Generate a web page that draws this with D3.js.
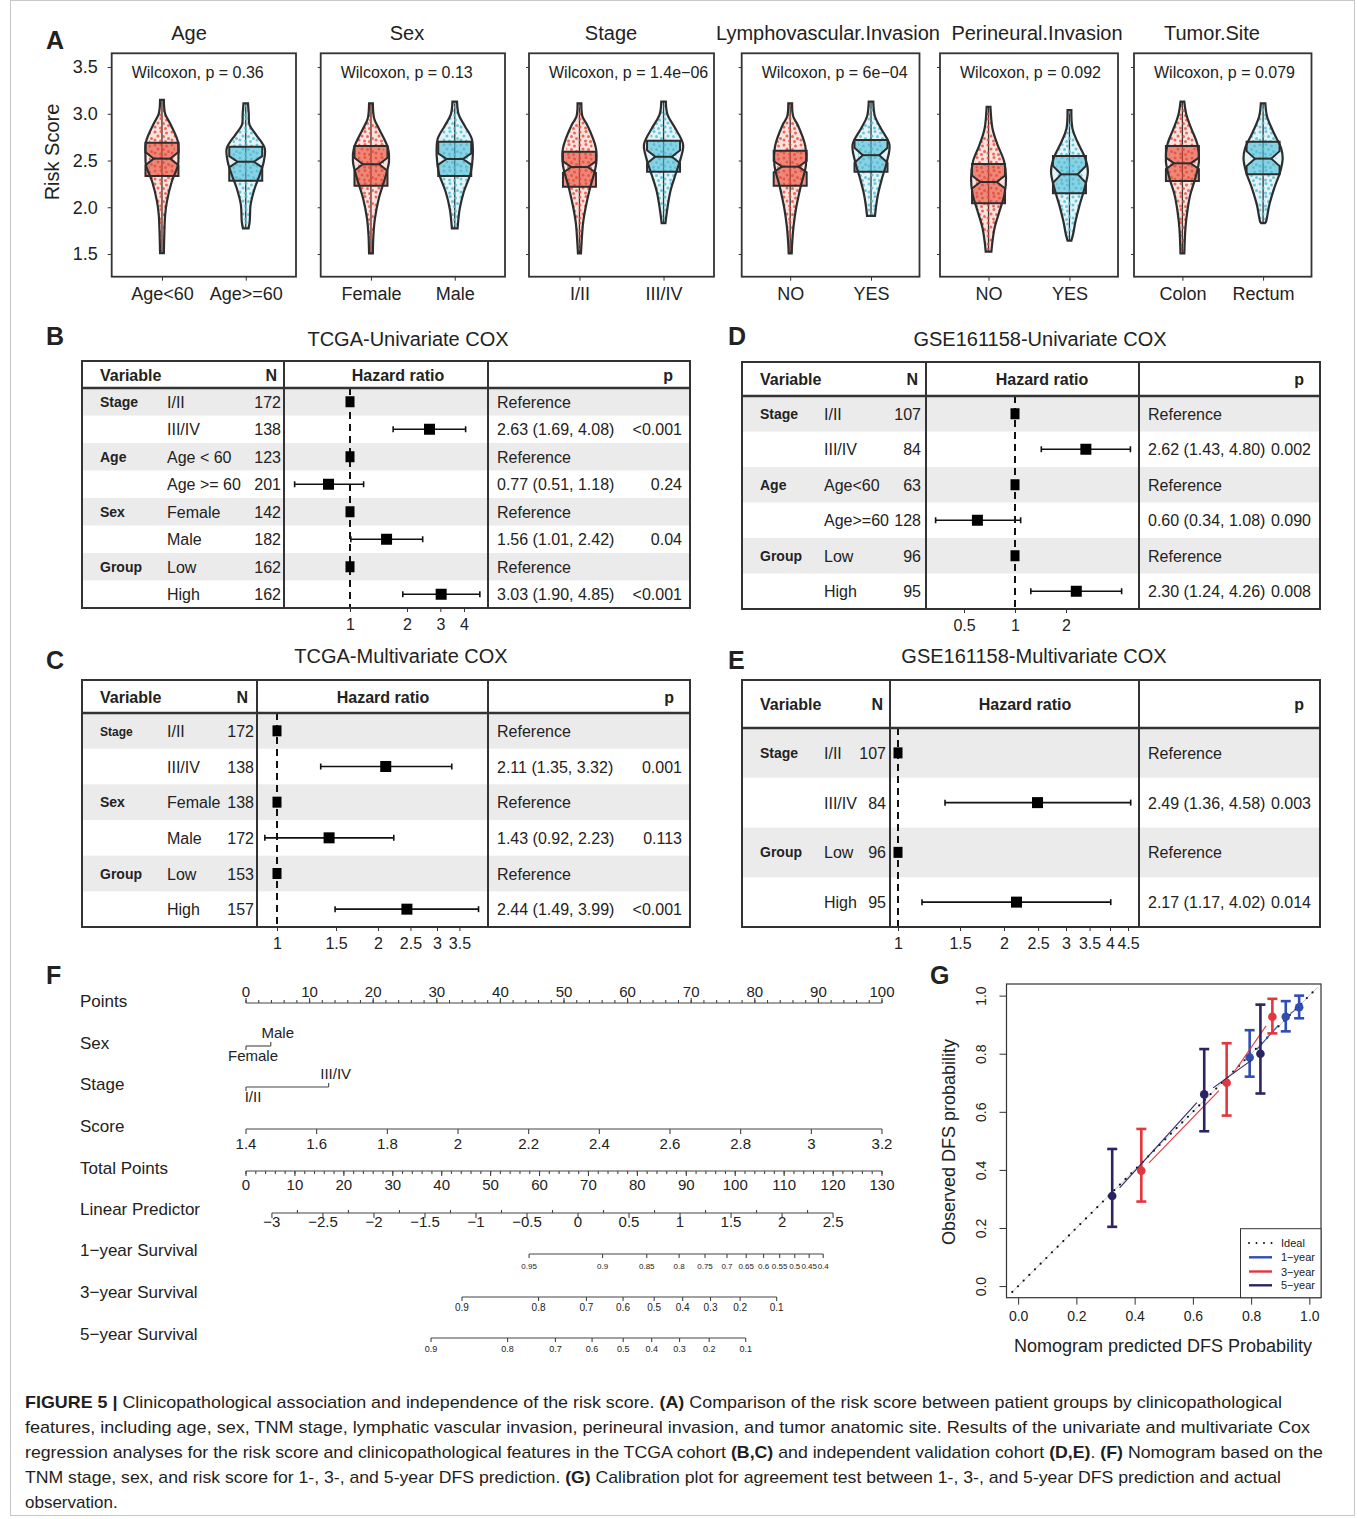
<!DOCTYPE html>
<html>
<head>
<meta charset="utf-8">
<title>Figure 5</title>
<script src="https://cdn.jsdelivr.net/npm/d3@7"></script>
<style>
  body { margin: 0; background: #fff; }
  svg { display: block; }
</style>
</head>
<body>
<svg id="fig" width="1357" height="1519"></svg>
<script>
// ---------- panel A : risk score by clinical groups ----------
const violinPanels = ['Age', 'Sex', 'Stage', 'Lymphovascular.Invasion', 'Perineural.Invasion', 'Tumor.Site'];
const violinGroups = [['Age<60', 'Age>=60'], ['Female', 'Male'], ['I/II', 'III/IV'], ['NO', 'YES'], ['NO', 'YES'], ['Colon', 'Rectum']];
const wilcoxonP = ['0.36', '0.13', '1.4e\u221206', '6e\u221204', '0.092', '0.079'];
const riskTicks = [1.5, 2.0, 2.5, 3.0, 3.5];

// [q1, median, q3, notch half height]
const boxAge = [[2.334, 2.52, 2.69, 0.07], [2.284, 2.487, 2.648, 0.06]];
const boxSex = [[2.231, 2.46, 2.655, 0.07], [2.334, 2.516, 2.70, 0.06]];
const boxStage = [[2.22, 2.43, 2.594, 0.06], [2.38, 2.54, 2.712, 0.07]];
const boxLVI = [[2.231, 2.434, 2.605, 0.06], [2.38, 2.557, 2.719, 0.08]];
const boxPNI = [[2.042, 2.27, 2.463, 0.07], [2.149, 2.352, 2.548, 0.09]];
const boxSite = [[2.28, 2.47, 2.655, 0.06], [2.352, 2.52, 2.70, 0.08]];

// violin outline: [risk score, relative half width]
const violinAge = [
  [[3.15, 0.1], [3.0, 0.17], [2.88, 0.47], [2.7, 0.84], [2.55, 0.87], [2.45, 0.84], [2.27, 0.51], [2.06, 0.26], [1.92, 0.17], [1.75, 0.13], [1.51, 0.1]],
  [[3.11, 0.12], [3.0, 0.16], [2.88, 0.2], [2.78, 0.53], [2.63, 1.0], [2.49, 0.95], [2.35, 0.74], [2.2, 0.47], [2.03, 0.26], [1.85, 0.21], [1.775, 0.15]]
];
const violinSex = [
  [[3.11, 0.1], [2.95, 0.17], [2.84, 0.42], [2.63, 0.9], [2.49, 0.95], [2.31, 0.74], [2.1, 0.42], [1.88, 0.21], [1.7, 0.13], [1.507, 0.1]],
  [[3.13, 0.12], [2.99, 0.21], [2.87, 0.53], [2.73, 0.9], [2.55, 0.95], [2.37, 0.84], [2.16, 0.47], [1.98, 0.26], [1.775, 0.15]]
];
const violinStage = [
  [[3.11, 0.1], [2.97, 0.16], [2.88, 0.41], [2.63, 0.87], [2.45, 0.87], [2.2, 0.55], [2.0, 0.33], [1.83, 0.19], [1.58, 0.1], [1.507, 0.08]],
  [[3.13, 0.12], [2.99, 0.21], [2.84, 0.63], [2.67, 1.03], [2.52, 0.9], [2.35, 0.63], [2.18, 0.37], [2.0, 0.21], [1.83, 0.1]]
];
const violinLVI = [
  [[3.11, 0.1], [2.97, 0.16], [2.88, 0.4], [2.65, 0.8], [2.45, 0.83], [2.22, 0.55], [2.0, 0.32], [1.8, 0.18], [1.6, 0.1], [1.507, 0.08]],
  [[3.13, 0.12], [2.97, 0.21], [2.84, 0.53], [2.67, 0.97], [2.49, 0.84], [2.31, 0.58], [2.14, 0.37], [2.0, 0.26], [1.907, 0.21]]
];
const violinPNI = [
  [[3.075, 0.1], [2.84, 0.21], [2.67, 0.47], [2.49, 0.82], [2.31, 0.92], [2.14, 0.84], [1.96, 0.58], [1.78, 0.32], [1.64, 0.21], [1.525, 0.15]],
  [[3.04, 0.1], [2.84, 0.16], [2.7, 0.42], [2.52, 0.84], [2.38, 0.97], [2.2, 0.79], [2.02, 0.53], [1.85, 0.32], [1.7, 0.18], [1.643, 0.1]]
];
const violinSite = [
  [[3.13, 0.1], [2.99, 0.21], [2.84, 0.47], [2.67, 0.79], [2.49, 0.87], [2.31, 0.68], [2.14, 0.42], [1.96, 0.26], [1.78, 0.16], [1.507, 0.1]],
  [[3.11, 0.12], [2.97, 0.21], [2.81, 0.53], [2.63, 0.95], [2.52, 1.03], [2.38, 0.9], [2.2, 0.58], [2.02, 0.32], [1.85, 0.16], [1.83, 0.1]]
];

// ---------- panels B-E : cox regression tables ----------
const tcgaUniGroups = ['Stage', '', 'Age', '', 'Sex', '', 'Group', ''];
const tcgaUniLevels = ['I/II', 'III/IV', 'Age < 60', 'Age >= 60', 'Female', 'Male', 'Low', 'High'];
const tcgaUniN = [172, 138, 123, 201, 142, 182, 162, 162];
const tcgaUniHR = [1, 2.63, 1, 0.77, 1, 1.56, 1, 3.03];
const tcgaUniLo = [null, 1.69, null, 0.51, null, 1.01, null, 1.90];
const tcgaUniHi = [null, 4.08, null, 1.18, null, 2.42, null, 4.85];
const tcgaUniP = ['', '<0.001', '', '0.24', '', '0.04', '', '<0.001'];

const tcgaMultiGroups = ['Stage', '', 'Sex', '', 'Group', ''];
const tcgaMultiLevels = ['I/II', 'III/IV', 'Female', 'Male', 'Low', 'High'];
const tcgaMultiN = [172, 138, 138, 172, 153, 157];
const tcgaMultiHR = [1, 2.11, 1, 1.43, 1, 2.44];
const tcgaMultiLo = [null, 1.35, null, 0.92, null, 1.49];
const tcgaMultiHi = [null, 3.32, null, 2.23, null, 3.99];
const tcgaMultiP = ['', '0.001', '', '0.113', '', '<0.001'];

const gseUniGroups = ['Stage', '', 'Age', '', 'Group', ''];
const gseUniLevels = ['I/II', 'III/IV', 'Age<60', 'Age>=60', 'Low', 'High'];
const gseUniN = [107, 84, 63, 128, 96, 95];
const gseUniHR = [1, 2.62, 1, 0.60, 1, 2.30];
const gseUniLo = [null, 1.43, null, 0.34, null, 1.24];
const gseUniHi = [null, 4.80, null, 1.08, null, 4.26];
const gseUniP = ['', '0.002', '', '0.090', '', '0.008'];

const gseMultiGroups = ['Stage', '', 'Group', ''];
const gseMultiLevels = ['I/II', 'III/IV', 'Low', 'High'];
const gseMultiN = [107, 84, 96, 95];
const gseMultiHR = [1, 2.49, 1, 2.17];
const gseMultiLo = [null, 1.36, null, 1.17];
const gseMultiHi = [null, 4.58, null, 4.02];
const gseMultiP = ['', '0.003', '', '0.014'];

// ---------- panel F : nomogram ----------
const nomoRows = ['Points', 'Sex', 'Stage', 'Score', 'Total Points', 'Linear Predictor',
  '1\u2212year Survival', '3\u2212year Survival', '5\u2212year Survival'];
const pointsTicks = d3.range(0, 101, 10);
const sexLevels = ['Female', 'Male'];
const sexPoints = [0, 3.9];
const stageLevels = ['I/II', 'III/IV'];
const stagePoints = [0, 13.0];
const scoreTicks = [1.4, 1.6, 1.8, 2, 2.2, 2.4, 2.6, 2.8, 3, 3.2];
const totalTicks = d3.range(0, 131, 10);
const lpTicks = [-3, -2.5, -2, -1.5, -1, -0.5, 0, 0.5, 1, 1.5, 2, 2.5];
const lpTotalPoints = [5.3, 120.0];          // total points at lp = -3 and lp = 2.5
const baselineSurv = [0.9205, 0.720, 0.6408]; // 1-, 3-, 5-year
const surv1Ticks = [0.95, 0.9, 0.85, 0.8, 0.75, 0.7, 0.65, 0.6, 0.55, 0.5, 0.45, 0.4];
const surv3Ticks = [0.9, 0.8, 0.7, 0.6, 0.5, 0.4, 0.3, 0.2, 0.1];
const surv5Ticks = [0.9, 0.8, 0.7, 0.6, 0.5, 0.4, 0.3, 0.2, 0.1];

// ---------- panel G : calibration ----------
const calibYears = ['1\u2212year', '3\u2212year', '5\u2212year'];
const calibPred = [[0.795, 0.919, 0.965], [0.423, 0.716, 0.873], [0.323, 0.639, 0.832]];
const calibObs = [[0.787, 0.927, 0.96], [0.397, 0.70, 0.927], [0.31, 0.66, 0.80]];
const calibLo = [[0.721, 0.877, 0.922], [0.291, 0.587, 0.87], [0.204, 0.533, 0.663]];
const calibHi = [[0.881, 0.981, 1.0], [0.541, 0.836, 0.989], [0.472, 0.816, 0.969]];
const calibTicks = [0, 0.2, 0.4, 0.6, 0.8, 1.0];

// =====================================================================
const FONT = '"Liberation Sans", Arial, Helvetica, sans-serif';
const INK = '#222';
const svg = d3.select('#fig').style('font-family', FONT).attr('fill', INK);

svg.append('rect').attr('x', 10.5).attr('y', 0.5).attr('width', 1344).attr('height', 1515)
  .attr('fill', 'none').attr('stroke', '#c8c8c8');

function panelLetter(txt, x, y) {
  svg.append('text').attr('x', x).attr('y', y).attr('font-size', 25).attr('font-weight', 'bold').text(txt);
}
panelLetter('A', 46, 49);
panelLetter('B', 46, 345);
panelLetter('C', 46, 669);
panelLetter('D', 728, 345);
panelLetter('E', 728, 669);
panelLetter('F', 46, 984);
panelLetter('G', 930, 984);

function styleAxis(a, size) {
  a.select('.domain').remove();
  a.attr('font-family', FONT).attr('font-size', size).attr('color', '#333');
  a.selectAll('text').attr('fill', INK);
}

// ---------------- panel A ----------------
const vioColors = ['#E64B35', '#4DBBD5'];
const defs = svg.append('defs');
vioColors.forEach((c, i) => {
  const p = defs.append('pattern').attr('id', 'dots' + i)
    .attr('patternUnits', 'userSpaceOnUse').attr('width', 17).attr('height', 13);
  [[2, 2], [8, 1.5], [13.5, 3], [5, 6], [10.5, 6.5], [15.5, 8.5], [2, 10], [7.5, 11], [12.5, 11.5]].forEach(([x, y]) => {
    p.append('circle').attr('cx', x).attr('cy', y).attr('r', 1.5).attr('fill', c).attr('opacity', 0.8);
  });
});

const aTop = 53.3, aBottom = 276.7;
const aBoxes = [[111.7, 296], [320.7, 505], [529, 714], [741.7, 919.5], [940, 1118], [1134, 1311.5]];
const aTitleX = [189, 407, 611, 828, 1037, 1212];
const yA = d3.scaleLinear().domain([1.5, 3.5]).range([254, 67]);
const allBoxes = [boxAge, boxSex, boxStage, boxLVI, boxPNI, boxSite];
const allViolins = [violinAge, violinSex, violinStage, violinLVI, violinPNI, violinSite];
const vioHalf = 19, boxHalf = 16.5;

svg.append('text').attr('transform', 'translate(59,152) rotate(-90)')
  .attr('text-anchor', 'middle').attr('font-size', 20).text('Risk Score');

violinPanels.forEach((title, pi) => {
  const [bx0, bx1] = aBoxes[pi];
  const g = svg.append('g');
  const xp = d3.scalePoint().domain(violinGroups[pi]).range([bx0, bx1]).padding(0.6);

  g.append('text').attr('x', aTitleX[pi]).attr('y', 40).attr('text-anchor', 'middle')
    .attr('font-size', 20).text(title);

  g.append('g').attr('transform', `translate(${bx0},0)`)
    .call(d3.axisLeft(yA).tickValues(riskTicks).tickSize(pi === 0 ? 4 : 3).tickPadding(10)
      .tickFormat(pi === 0 ? d3.format('.1f') : ''))
    .call(a => styleAxis(a, 18));

  g.append('g').attr('transform', `translate(0,${aBottom})`)
    .call(d3.axisBottom(xp).tickSize(4).tickPadding(7))
    .call(a => styleAxis(a, 18));

  g.append('text').attr('x', bx0 + 20).attr('y', 78).attr('font-size', 16)
    .text('Wilcoxon, p = ' + wilcoxonP[pi]);

  violinGroups[pi].forEach((grp, gi) => {
    const cx = xp(grp);
    const prof = allViolins[pi][gi];
    const [q1, med, q3, nh] = allBoxes[pi][gi];
    const col = vioColors[gi];
    const area = d3.area()
      .y(d => yA(d[0]))
      .x0(d => cx - d[1] * vioHalf)
      .x1(d => cx + d[1] * vioHalf)
      .curve(d3.curveCatmullRom);
    const clipId = `vclip${pi}_${gi}`;
    defs.append('clipPath').attr('id', clipId).append('path').attr('d', area(prof));

    g.append('path').attr('d', area(prof)).attr('fill', col).attr('fill-opacity', 0.16);
    // whisker
    g.append('line').attr('x1', cx).attr('x2', cx)
      .attr('y1', yA(prof[0][0])).attr('y2', yA(prof[prof.length - 1][0]))
      .attr('stroke', '#333').attr('stroke-width', 1.3);
    // notched box
    const xi = boxHalf * 0.5;
    const pts = [
      [cx - boxHalf, yA(q3)], [cx + boxHalf, yA(q3)], [cx + boxHalf, yA(med + nh)], [cx + xi, yA(med)],
      [cx + boxHalf, yA(med - nh)], [cx + boxHalf, yA(q1)], [cx - boxHalf, yA(q1)],
      [cx - boxHalf, yA(med - nh)], [cx - xi, yA(med)], [cx - boxHalf, yA(med + nh)]
    ];
    g.append('path').attr('d', 'M' + pts.join('L') + 'Z').attr('fill', col).attr('fill-opacity', 0.6);
    // jittered points
    g.append('g').attr('clip-path', `url(#${clipId})`)
      .append('rect').attr('x', cx - 13).attr('width', 26)
      .attr('y', yA(prof[0][0]) - 2).attr('height', yA(prof[prof.length - 1][0]) - yA(prof[0][0]) + 4)
      .attr('fill', `url(#dots${gi})`);
    g.append('path').attr('d', 'M' + pts.join('L') + 'Z').attr('fill', 'none')
      .attr('stroke', '#2d2d2d').attr('stroke-width', 2);
    g.append('line').attr('x1', cx - xi).attr('x2', cx + xi).attr('y1', yA(med)).attr('y2', yA(med))
      .attr('stroke', '#2d2d2d').attr('stroke-width', 2);
    g.append('path').attr('d', area(prof)).attr('fill', 'none')
      .attr('stroke', '#2d2d2d').attr('stroke-width', 2.2);
  });

  g.append('rect').attr('x', bx0).attr('y', aTop).attr('width', bx1 - bx0).attr('height', aBottom - aTop)
    .attr('fill', 'none').attr('stroke', '#333').attr('stroke-width', 1.8);
});

// ---------------- panels B-E ----------------
function drawForest(d, L) {
  const g = svg.append('g');
  const n = d.levels.length;
  const row = d3.scaleBand().domain(d3.range(n)).range([L.top + L.headH, L.bottom]);
  const cy = i => row(i) + row.bandwidth() / 2;
  const hr = d3.scaleLog().domain(L.hrDomain).range(L.hrRange);
  const f2 = d3.format('.2f');

  g.append('text').attr('x', L.titleX).attr('y', L.titleY).attr('text-anchor', 'middle')
    .attr('font-size', 20).text(d.title);

  g.selectAll('rect.zebra').data(d3.range(0, n, 2)).join('rect')
    .attr('x', L.left).attr('width', L.right - L.left)
    .attr('y', i => row(i)).attr('height', row.bandwidth()).attr('fill', '#ebebeb');

  const hy = L.top + L.headH / 2 + 6;
  const head = g.append('g').attr('font-weight', 'bold').attr('font-size', 16);
  head.append('text').attr('x', L.groupX).attr('y', hy).text('Variable');
  head.append('text').attr('x', L.nHeadX).attr('y', hy).attr('text-anchor', 'end').text('N');
  head.append('text').attr('x', L.hrHeadX).attr('y', hy).attr('text-anchor', 'middle').text('Hazard ratio');
  head.append('text').attr('x', L.pHeadX).attr('y', hy).attr('text-anchor', 'end').text('p');

  const rows = g.selectAll('g.row').data(d3.range(n)).join('g')
    .attr('transform', i => `translate(0,${cy(i)})`).attr('font-size', 16);
  rows.append('text').attr('x', L.groupX).attr('y', 5).attr('font-weight', 'bold')
    .attr('font-size', i => (L.smallGroups || []).includes(i) ? 12 : 14).text(i => d.groups[i]);
  rows.append('text').attr('x', L.levelX).attr('y', 6).text(i => d.levels[i]);
  rows.append('text').attr('x', L.nX).attr('y', 6).attr('text-anchor', 'end').text(i => d.n[i]);
  rows.append('text').attr('x', L.estX).attr('y', 6)
    .text(i => d.lo[i] == null ? 'Reference' : `${f2(d.hr[i])} (${f2(d.lo[i])}, ${f2(d.hi[i])})`);
  rows.append('text').attr('x', L.pX).attr('y', 6).attr('text-anchor', 'end').text(i => d.p[i]);

  // reference line
  g.append('line').attr('x1', hr(1)).attr('x2', hr(1)).attr('y1', L.top + L.headH).attr('y2', L.bottom)
    .attr('stroke', '#111').attr('stroke-width', 2).attr('stroke-dasharray', '7,5');

  const est = d3.range(n).filter(i => d.lo[i] != null);
  const ci = g.selectAll('g.ci').data(est).join('g').attr('stroke', '#111').attr('stroke-width', 1.6);
  ci.append('line').attr('x1', i => hr(d.lo[i])).attr('x2', i => hr(d.hi[i])).attr('y1', cy).attr('y2', cy);
  ci.append('line').attr('x1', i => hr(d.lo[i])).attr('x2', i => hr(d.lo[i]))
    .attr('y1', i => cy(i) - 3).attr('y2', i => cy(i) + 3);
  ci.append('line').attr('x1', i => hr(d.hi[i])).attr('x2', i => hr(d.hi[i]))
    .attr('y1', i => cy(i) - 3).attr('y2', i => cy(i) + 3);
  g.selectAll('rect.sq').data(d3.range(n)).join('rect')
    .attr('width', i => d.lo[i] == null ? 9 : 11).attr('height', 11)
    .attr('x', i => hr(d.hr[i]) - (d.lo[i] == null ? 4.5 : 5.5)).attr('y', i => cy(i) - 5.5)
    .attr('fill', '#000');

  // frame
  const fr = g.append('g').attr('stroke', '#333').attr('stroke-width', 2).attr('fill', 'none');
  fr.append('rect').attr('x', L.left).attr('y', L.top).attr('width', L.right - L.left).attr('height', L.bottom - L.top);
  fr.append('line').attr('x1', L.left).attr('x2', L.right).attr('y1', L.top + L.headH).attr('y2', L.top + L.headH)
    .attr('stroke-width', 2.5);
  L.div.forEach(x => fr.append('line').attr('x1', x).attr('x2', x).attr('y1', L.top).attr('y2', L.bottom));

  g.append('g').attr('transform', `translate(0,${L.bottom})`)
    .call(d3.axisBottom(hr).tickValues(L.ticks).tickFormat(d3.format('')).tickSize(4).tickPadding(7))
    .call(a => styleAxis(a, 16));
}

drawForest(
  { title: 'TCGA-Univariate COX', groups: tcgaUniGroups, levels: tcgaUniLevels, n: tcgaUniN,
    hr: tcgaUniHR, lo: tcgaUniLo, hi: tcgaUniHi, p: tcgaUniP },
  { left: 82, right: 690, top: 361, bottom: 608, headH: 27, div: [284, 488],
    hrDomain: [1, 4], hrRange: [350, 464], ticks: [1, 2, 3, 4], titleX: 408, titleY: 346,
    groupX: 100, levelX: 167, nX: 281, nHeadX: 277, hrHeadX: 398, estX: 497, pX: 682, pHeadX: 673 });

drawForest(
  { title: 'TCGA-Multivariate COX', groups: tcgaMultiGroups, levels: tcgaMultiLevels, n: tcgaMultiN,
    hr: tcgaMultiHR, lo: tcgaMultiLo, hi: tcgaMultiHi, p: tcgaMultiP },
  { left: 82, right: 690, top: 680, bottom: 927, headH: 33, div: [257, 488],
    hrDomain: [1, 3], hrRange: [277, 437], ticks: [1, 1.5, 2, 2.5, 3, 3.5], titleX: 401, titleY: 663,
    groupX: 100, levelX: 167, nX: 254, nHeadX: 248, hrHeadX: 383, estX: 497, pX: 682, pHeadX: 674,
    smallGroups: [0] });

drawForest(
  { title: 'GSE161158-Univariate COX', groups: gseUniGroups, levels: gseUniLevels, n: gseUniN,
    hr: gseUniHR, lo: gseUniLo, hi: gseUniHi, p: gseUniP },
  { left: 742, right: 1320, top: 362, bottom: 609, headH: 34, div: [926, 1139],
    hrDomain: [1, 2], hrRange: [1015, 1066], ticks: [0.5, 1, 2], titleX: 1040, titleY: 346,
    groupX: 760, levelX: 824, nX: 921, nHeadX: 918, hrHeadX: 1042, estX: 1148, pX: 1311, pHeadX: 1304 });

drawForest(
  { title: 'GSE161158-Multivariate COX', groups: gseMultiGroups, levels: gseMultiLevels, n: gseMultiN,
    hr: gseMultiHR, lo: gseMultiLo, hi: gseMultiHi, p: gseMultiP },
  { left: 742, right: 1320, top: 680, bottom: 927, headH: 48, div: [890, 1139],
    hrDomain: [1, 2], hrRange: [898, 1004], ticks: [1, 1.5, 2, 2.5, 3, 3.5, 4, 4.5], titleX: 1034, titleY: 663,
    groupX: 760, levelX: 824, nX: 886, nHeadX: 883, hrHeadX: 1025, estX: 1148, pX: 1311, pHeadX: 1304 });

// ---------------- panel F ----------------
const ptsX = d3.scaleLinear().domain([0, 100]).range([246, 882]);
const totX = d3.scaleLinear().domain([0, 130]).range([246, 882]);
const scoreToPts = d3.scaleLinear().domain([1.4, 3.2]).range([0, 100]);
const lpToTot = d3.scaleLinear().domain([-3, 2.5]).range(lpTotalPoints);
const lpX = v => totX(lpToTot(v));
const survX = s0 => s => lpX(Math.log(Math.log(s) / Math.log(s0)));
const fmt = d3.format('');

const nomoRowY = [1007, 1049, 1090, 1132, 1174, 1215, 1256, 1298, 1340];
svg.append('g').attr('font-size', 17).selectAll('text').data(nomoRows).join('text')
  .attr('x', 80).attr('y', (d, i) => nomoRowY[i]).text(d => d);

function nomoAxis(o) {
  const g = svg.append('g');
  const ln = g.append('g').attr('stroke', '#444').attr('stroke-width', 1.1);
  ln.append('line').attr('x1', o.pos(o.ticks[0])).attr('x2', o.pos(o.ticks[o.ticks.length - 1]))
    .attr('y1', o.y).attr('y2', o.y);
  if (o.minor) {
    ln.selectAll('line.mi').data(o.minor).join('line').attr('class', 'mi')
      .attr('x1', o.pos).attr('x2', o.pos).attr('y1', o.y).attr('y2', o.y + o.minorLen);
  }
  ln.selectAll('line.ma').data(o.ticks).join('line').attr('class', 'ma')
    .attr('x1', o.pos).attr('x2', o.pos).attr('y1', o.y).attr('y2', o.y + o.len);
  g.selectAll('text').data(o.ticks).join('text')
    .attr('x', d => o.pos(d)).attr('y', o.labelY).attr('text-anchor', 'middle')
    .attr('font-size', o.size).text(o.fmt || fmt);
}

nomoAxis({ y: 1003, ticks: pointsTicks, pos: ptsX, len: -5, minor: d3.range(0, 101, 2), minorLen: -3,
  labelY: 997, size: 15 });
nomoAxis({ y: 1129, ticks: scoreTicks, pos: v => ptsX(scoreToPts(v)), len: 5, labelY: 1149, size: 15 });
nomoAxis({ y: 1171, ticks: totalTicks, pos: totX, len: 5, minor: d3.range(0, 131, 2), minorLen: 3,
  labelY: 1190, size: 15 });
nomoAxis({ y: 1213, ticks: lpTicks, pos: lpX, len: 5, minor: d3.range(-2.75, 2.5, 0.5), minorLen: -3,
  labelY: 1227, size: 15 });
nomoAxis({ y: 1254, ticks: surv1Ticks, pos: survX(baselineSurv[0]), len: 4, labelY: 1269, size: 8 });
nomoAxis({ y: 1297, ticks: surv3Ticks, pos: survX(baselineSurv[1]), len: 4, labelY: 1311, size: 10 });
nomoAxis({ y: 1338, ticks: surv5Ticks, pos: survX(baselineSurv[2]), len: 4, labelY: 1352, size: 9 });

function nomoCategorical(y, levels, points) {
  const g = svg.append('g');
  const ln = g.append('g').attr('stroke', '#444').attr('stroke-width', 1.1);
  ln.append('line').attr('x1', ptsX(points[0])).attr('x2', ptsX(points[1])).attr('y1', y).attr('y2', y);
  ln.selectAll('line.t').data(points).join('line').attr('class', 't')
    .attr('x1', ptsX).attr('x2', ptsX).attr('y1', y).attr('y2', (d, i) => y + (i === 0 ? 4 : -4));
  g.selectAll('text').data(levels).join('text')
    .attr('x', (d, i) => ptsX(points[i]) + 7).attr('y', (d, i) => i === 0 ? y + 15 : y - 8)
    .attr('text-anchor', 'middle').attr('font-size', 15).text(d => d);
}
nomoCategorical(1046, sexLevels, sexPoints);
nomoCategorical(1087, stageLevels, stagePoints);

// ---------------- panel G ----------------
const xG = d3.scaleLinear().domain([-0.04, 1.04]).range([1006.5, 1321]);
const yG = d3.scaleLinear().domain([-0.04, 1.04]).range([1297.7, 984]);
const calibColors = ['#2F4DB3', '#E3363D', '#2A2465'];
const gG = svg.append('g');

gG.append('line').attr('x1', xG(-0.02)).attr('y1', yG(-0.02)).attr('x2', xG(1.03)).attr('y2', yG(1.03))
  .attr('stroke', '#c4c4c4').attr('stroke-width', 1);
gG.append('line').attr('x1', xG(-0.02)).attr('y1', yG(-0.02)).attr('x2', xG(1.03)).attr('y2', yG(1.03))
  .attr('stroke', '#111').attr('stroke-width', 2.2).attr('stroke-linecap', 'round')
  .attr('stroke-dasharray', '0,8');

calibYears.forEach((yr, k) => {
  const col = calibColors[k];
  const pts = calibPred[k].map((p, i) => [xG(p), yG(calibObs[k][i])]);
  // type = "b": segments stop short of the points
  d3.pairs(pts).forEach(([a, b]) => {
    const dx = b[0] - a[0], dy = b[1] - a[1], len = Math.hypot(dx, dy), gap = 11;
    gG.append('line')
      .attr('x1', a[0] + dx * gap / len).attr('y1', a[1] + dy * gap / len)
      .attr('x2', b[0] - dx * gap / len).attr('y2', b[1] - dy * gap / len)
      .attr('stroke', col).attr('stroke-width', 1.1);
  });
  const eb = gG.append('g').attr('stroke', col).attr('stroke-width', 2.6);
  calibPred[k].forEach((p, i) => {
    const x = xG(p);
    eb.append('line').attr('x1', x).attr('x2', x).attr('y1', yG(calibLo[k][i])).attr('y2', yG(calibHi[k][i]));
    eb.append('line').attr('x1', x - 5).attr('x2', x + 5).attr('y1', yG(calibLo[k][i])).attr('y2', yG(calibLo[k][i]));
    eb.append('line').attr('x1', x - 5).attr('x2', x + 5).attr('y1', yG(calibHi[k][i])).attr('y2', yG(calibHi[k][i]));
  });
  gG.selectAll(null).data(pts).join('circle').attr('cx', d => d[0]).attr('cy', d => d[1])
    .attr('r', 4.3).attr('fill', col);
});

gG.append('rect').attr('x', xG(-0.04)).attr('y', yG(1.04)).attr('width', xG(1.04) - xG(-0.04))
  .attr('height', yG(-0.04) - yG(1.04)).attr('fill', 'none').attr('stroke', '#333').attr('stroke-width', 1.2);

gG.append('g').attr('transform', `translate(0,${yG(-0.04)})`)
  .call(d3.axisBottom(xG).tickValues(calibTicks).tickFormat(d3.format('.1f')).tickSize(7).tickPadding(6))
  .call(a => styleAxis(a, 14));
gG.append('g').attr('transform', `translate(${xG(-0.04)},0)`)
  .call(d3.axisLeft(yG).tickValues(calibTicks).tickFormat(d3.format('.1f')).tickSize(7))
  .call(a => styleAxis(a, 14))
  .call(a => a.selectAll('text').attr('transform', 'rotate(-90)').attr('text-anchor', 'middle')
    .attr('x', 0).attr('y', -21).attr('dy', 0));

gG.append('text').attr('x', 1163).attr('y', 1352).attr('text-anchor', 'middle').attr('font-size', 18)
  .text('Nomogram predicted DFS Probability');
gG.append('text').attr('transform', 'translate(955,1142) rotate(-90)').attr('text-anchor', 'middle')
  .attr('font-size', 18).text('Observed DFS probability');

// legend
const leg = gG.append('g');
leg.append('rect').attr('x', 1240.5).attr('y', 1228.7).attr('width', 80.5).attr('height', 69)
  .attr('fill', '#fff').attr('stroke', '#333').attr('stroke-width', 1);
const legItems = ['Ideal'].concat(calibYears);
const legY = [1243, 1257.3, 1271.5, 1285.3];
legItems.forEach((t, i) => {
  const ln = leg.append('line').attr('x1', 1249).attr('x2', 1272).attr('y1', legY[i]).attr('y2', legY[i]);
  if (i === 0) {
    ln.attr('stroke', '#111').attr('stroke-width', 2).attr('stroke-linecap', 'round').attr('stroke-dasharray', '0,7.5');
  } else {
    ln.attr('stroke', calibColors[i - 1]).attr('stroke-width', 2.4);
  }
  leg.append('text').attr('x', 1281).attr('y', legY[i] + 4).attr('font-size', 11).text(t);
});

// ---------------- caption ----------------
const captionLines = [
  [['FIGURE 5 |', true], [' Clinicopathological association and independence of the risk score. ', false], ['(A)', true],
    [' Comparison of the risk score between patient groups by clinicopathological', false]],
  [['features, including age, sex, TNM stage, lymphatic vascular invasion, perineural invasion, and tumor anatomic site. Results of the univariate and multivariate Cox', false]],
  [['regression analyses for the risk score and clinicopathological features in the TCGA cohort ', false], ['(B,C)', true],
    [' and independent validation cohort ', false], ['(D,E)', true], ['. ', false], ['(F)', true], [' Nomogram based on the', false]],
  [['TNM stage, sex, and risk score for 1-, 3-, and 5-year DFS prediction. ', false], ['(G)', true],
    [' Calibration plot for agreement test between 1-, 3-, and 5-year DFS prediction and actual', false]],
  [['observation.', false]]
];
const captionWidths = [1257, 1285, 1298, 1256, null];
const cap = svg.append('g').attr('font-size', 17).attr('fill', '#1e1e1e');
captionLines.forEach((segs, i) => {
  const t = cap.append('text').attr('x', 25).attr('y', 1408 + i * 25).attr('xml:space', 'preserve');
  if (captionWidths[i]) t.attr('textLength', captionWidths[i]).attr('lengthAdjust', 'spacingAndGlyphs');
  segs.forEach(([s, b]) => t.append('tspan').attr('font-weight', b ? 'bold' : null).text(s));
});
</script>
</body>
</html>
